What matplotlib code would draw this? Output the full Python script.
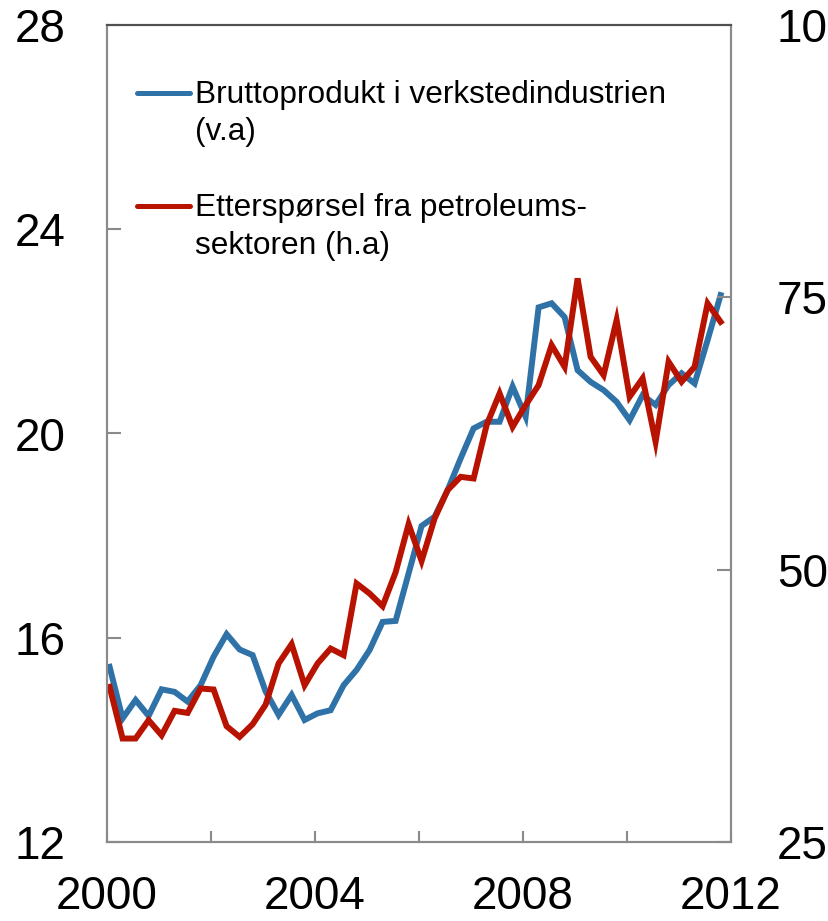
import matplotlib.pyplot as plt
import numpy as np
from matplotlib.lines import Line2D

plt.rcParams['font.family'] = ['Liberation Sans', 'DejaVu Sans']

# Quarterly data 2000Q1 - 2011Q4
quarters = 2000.05 + np.arange(48) / 4

# Bruttoprodukt i verkstedindustrien (left axis)
brutto = [15.43, 14.42, 14.78, 14.47, 14.99, 14.94, 14.75, 15.07,
          15.63, 16.07, 15.77, 15.66, 14.95, 14.49, 14.88, 14.39,
          14.52, 14.58, 15.07, 15.37, 15.76, 16.31, 16.33, 17.26,
          18.19, 18.37, 18.89, 19.51, 20.10, 20.23, 20.23, 20.92,
          20.33, 22.47, 22.55, 22.28, 21.24, 21.01, 20.85, 20.62,
          20.26, 20.75, 20.56, 20.95, 21.18, 20.98, 21.83, 22.71]

# Etterspørsel fra petroleumssektoren (right axis)
petro = [39.24, 34.50, 34.50, 36.18, 34.80, 37.04, 36.85, 39.09,
         39.00, 35.63, 34.65, 35.81, 37.60, 41.39, 43.16, 39.39,
         41.39, 42.76, 42.15, 48.73, 47.81, 46.65, 49.75, 54.18,
         50.80, 54.70, 57.30, 58.52, 58.37, 63.27, 66.18, 63.11,
         65.10, 66.94, 70.61, 68.62, 76.74, 69.54, 67.86, 72.91,
         65.87, 67.56, 61.74, 69.08, 67.25, 68.62, 74.44, 72.75]

left_ticks = [12, 16, 20, 24, 28]
right_ticks = [25, 50, 75, 100]
x_ticks = [2000, 2002, 2004, 2006, 2008, 2010, 2012]
x_labels = ['2000', '', '2004', '', '2008', '', '2012']

blue = '#2F72A8'
red = '#B81200'
gray = '#8A8A8A'
W, H = 829, 921

fig = plt.figure(figsize=(W / 100, H / 100), dpi=100)
ax = fig.add_axes([107 / W, 1 - 842 / H, (731 - 107) / W, (842 - 25) / H])
ax2 = ax.twinx()

ax.plot(quarters, brutto, color=blue, lw=4.3, solid_joinstyle='miter')
ax2.plot(quarters, petro, color=red, lw=4.3, solid_joinstyle='miter')

ax.set_xlim(2000, 2012)
ax.set_ylim(12, 28)
ax2.set_ylim(25, 100)
ax.set_yticks(left_ticks)
ax2.set_yticks(right_ticks)
ax.set_xticks(x_ticks)
ax.set_xticklabels(x_labels)

ax.tick_params(axis='x', direction='in', length=8, width=1.5, color=gray,
               labelsize=33, pad=24)
ax.tick_params(axis='y', direction='in', length=10, width=1.5, color=gray,
               labelsize=33, pad=30)
ax2.tick_params(axis='y', direction='in', length=10, width=1.5, color=gray,
                labelsize=33, pad=33)

for a in (ax, ax2):
    for s in a.spines.values():
        s.set_color(gray)
        s.set_linewidth(1.5)
    a.spines['top'].set_color('#505050')

# legend drawn by hand
def fx(x):
    return x / W

def fy(y):
    return 1 - y / H

for y, col in [(93, blue), (206, red)]:
    fig.add_artist(Line2D([fx(137), fx(190)], [fy(y), fy(y)], color=col,
                          lw=3.6, solid_capstyle='round'))

legend_lines = [(103, 'Bruttoprodukt i verkstedindustrien'),
                (140, '(v.a)'),
                (216, 'Etterspørsel fra petroleums-'),
                (254, 'sektoren (h.a)')]
for y, txt in legend_lines:
    fig.text(fx(195), fy(y), txt, fontsize=22.8, va='baseline', ha='left')

fig.savefig('out.png', dpi=100)
